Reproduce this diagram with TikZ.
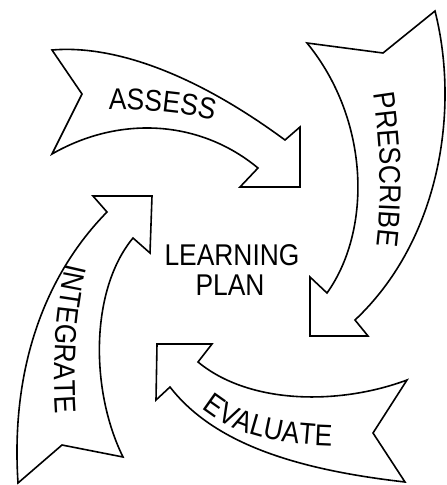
\documentclass[tikz,border=0pt]{standalone}
\usepackage{fontspec}
\newfontfamily\lab[FakeStretch=0.88]{Liberation Sans}
\usetikzlibrary{decorations.text}
\newcommand\labfont{\lab\fontsize{30}{30}\selectfont}
\begin{document}
\begin{tikzpicture}[x=1pt,y=-1pt,
  arrowshape/.style={draw=black,line width=1.6pt,line join=miter,fill=white},
  curvedlabel/.style={decorate,decoration={text along path,text align=center,text={#1}}},
  centerlabel/.style={font=\labfont,inner sep=0pt,anchor=base}]
\useasboundingbox (0,0) rectangle (447,485);
% ASSESS arrow (top)
\draw[arrowshape] (52,50) .. controls (110,45) and (190,70) .. (285,140)
  -- (300,127) -- (300,187) -- (240,187) -- (258,168)
  .. controls (200,120) and (120,115) .. (52,154) -- (82,94) -- cycle;
% PRESCRIBE arrow (right)
\draw[arrowshape] (307,43) -- (383,53) -- (435,11)
  .. controls (460,110) and (440,240) .. (355,320)
  -- (368,336) -- (310,336) -- (310,277) -- (327,293)
  .. controls (372,230) and (370,120) .. (307,43) -- cycle;
% EVALUATE arrow (bottom)
\draw[arrowshape] (407,380) .. controls (340,405) and (250,405) .. (198,362)
  -- (212,344) -- (157,344) -- (156,400) -- (170,387)
  .. controls (215,445) and (300,470) .. (405,482) -- (373,433) -- cycle;
% INTEGRATE arrow (left)
\draw[arrowshape] (107,212) -- (93,196) -- (152,196) -- (150,253) -- (133,238)
  .. controls (90,290) and (90,390) .. (123,457) -- (62,445) -- (18,483)
  .. controls (10,360) and (50,270) .. (107,212) -- cycle;
% curved labels
\path[curvedlabel={|\labfont|ASSESS}] (100,110) .. controls (140,109) and (185,112) .. (222,123);
\path[curvedlabel={|\labfont|PRESCRIBE}] (372,88) .. controls (381,140) and (383,200) .. (376,252);
\path[curvedlabel={|\labfont|EVALUATE}] (192,400) .. controls (225,432) and (270,446) .. (345,446);
\path[curvedlabel={|\labfont|INTEGRATE}] (68,258) .. controls (57,300) and (51,360) .. (56,420);
% centre text
\node[centerlabel] (learning) at (232,265) {LEARNING};
\node[centerlabel] (plan) at (230,295) {PLAN};
\end{tikzpicture}
\end{document}
